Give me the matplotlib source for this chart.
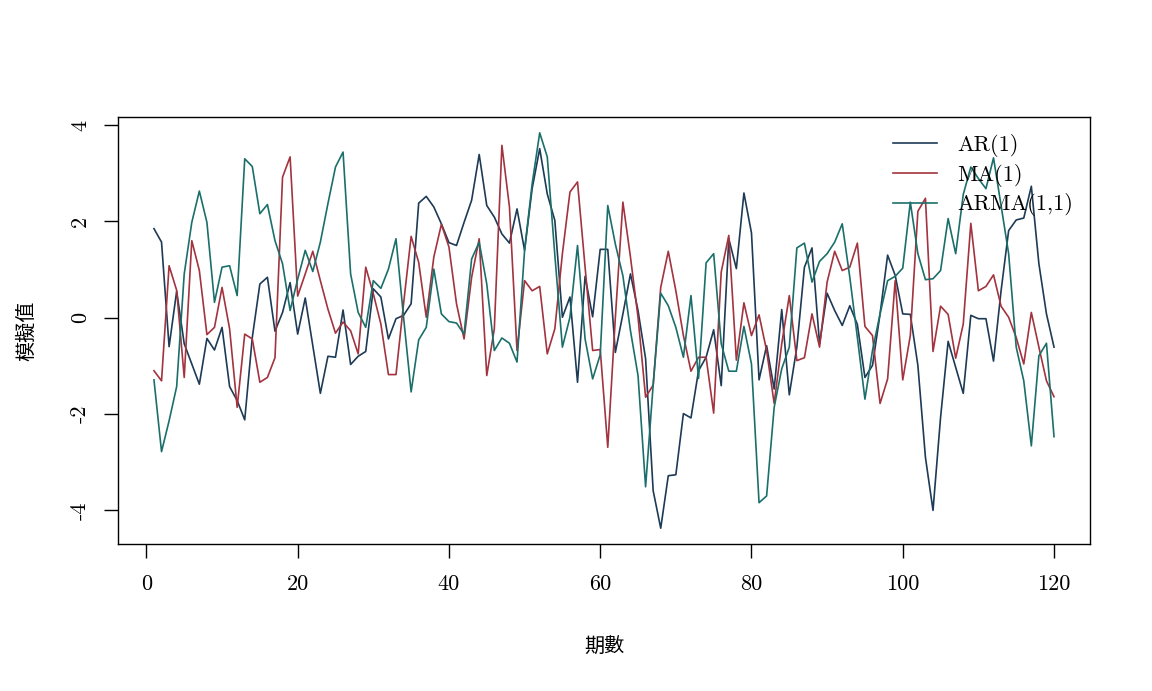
import numpy as np
import matplotlib
matplotlib.use("Agg")
import matplotlib.pyplot as plt

# simulated series, t = 1..120
periods = np.arange(1, 121)

ar1 = [1.85, 1.57, -0.60, 0.55, -0.54, -0.96, -1.38, -0.43, -0.67, -0.20,
       -1.43, -1.72, -2.12, -0.41, 0.70, 0.84, -0.28, 0.11, 0.73, -0.34,
       0.41, -0.58, -1.57, -0.80, -0.82, 0.16, -0.97, -0.80, -0.70, 0.60,
       0.43, -0.44, -0.02, 0.05, 0.29, 2.38, 2.52, 2.30, 1.95, 1.56,
       1.50, 1.98, 2.44, 3.39, 2.33, 2.09, 1.74, 1.55, 2.26, 1.40,
       2.68, 3.51, 2.57, 2.02, 0.01, 0.43, -1.34, 0.86, 0.02, 1.42,
       1.42, -0.72, 0.08, 0.91, 0.15, -0.85, -3.59, -4.37, -3.28, -3.26,
       -1.99, -2.08, -1.10, -0.82, -0.25, -1.41, 1.64, 1.02, 2.59, 1.76,
       -1.29, -0.58, -1.48, 0.17, -1.60, -0.61, 1.05, 1.45, -0.54, 0.51,
       0.15, -0.16, 0.25, -0.14, -1.24, -0.99, 0.08, 1.30, 0.88, 0.08,
       0.07, -0.99, -2.90, -4.00, -2.07, -0.49, -1.03, -1.57, 0.05, -0.02,
       -0.02, -0.90, 0.56, 1.81, 2.03, 2.07, 2.73, 1.12, 0.08, -0.61]

ma1 = [-1.10, -1.31, 1.08, 0.57, -1.24, 1.60, 0.98, -0.35, -0.20, 0.63,
       -0.23, -1.86, -0.34, -0.44, -1.34, -1.24, -0.83, 2.92, 3.34, 0.45,
       0.91, 1.38, 0.77, 0.18, -0.32, -0.09, -0.27, -0.75, 1.05, 0.50,
       -0.13, -1.18, -1.18, 0.29, 1.69, 1.15, 0.01, 1.26, 1.94, 1.47,
       0.29, -0.44, 0.84, 1.64, -1.20, -0.23, 3.58, 2.30, -0.68, 0.77,
       0.56, 0.65, -0.75, -0.23, 1.33, 2.61, 2.82, 1.05, -0.68, -0.66,
       -2.69, 0.00, 2.40, 1.26, 0.01, -1.65, -1.40, 0.63, 1.38, 0.56,
       -0.37, -1.11, -0.82, -0.82, -1.98, 0.95, 1.71, -0.88, 0.31, -0.37,
       0.06, -0.68, -1.78, -0.54, 0.46, -0.89, -0.83, 0.08, -0.61, 0.74,
       1.38, 0.98, 1.05, 1.55, -0.18, -0.37, -1.78, -1.27, 0.77, -1.29,
       -0.37, 2.21, 2.48, -0.70, 0.24, 0.07, -0.84, -0.13, 1.96, 0.56,
       0.65, 0.89, 0.24, 0.01, -0.41, -0.96, 0.11, -0.61, -1.31, -1.64]

arma11 = [-1.29, -2.78, -2.14, -1.43, 0.91, 1.98, 2.63, 1.98, 0.32, 1.05,
          1.08, 0.46, 3.30, 3.14, 2.16, 2.35, 1.60, 1.12, 0.15, 0.80,
          1.40, 0.96, 1.57, 2.37, 3.13, 3.44, 0.91, 0.11, -0.20, 0.77,
          0.61, 1.01, 1.64, 0.01, -1.54, -0.46, -0.20, 1.01, 0.08, -0.08,
          -0.11, -0.34, 1.22, 1.57, 0.70, -0.68, -0.42, -0.53, -0.92, 1.40,
          2.78, 3.84, 3.34, 1.30, -0.61, 0.01, 1.50, -0.44, -1.27, -0.77,
          2.33, 1.53, 0.87, -0.27, -1.20, -3.51, -1.40, 0.51, 0.25, -0.20,
          -0.82, 0.46, -1.26, 1.14, 1.33, -0.54, -1.11, -1.11, -0.18, -0.96,
          -3.84, -3.70, -1.86, -1.06, -0.61, 1.45, 1.55, 0.74, 1.17, 1.33,
          1.57, 1.95, 0.84, -0.41, -1.69, -0.68, 0.08, 0.77, 0.86, 1.03,
          2.40, 1.33, 0.79, 0.81, 0.98, 2.06, 1.33, 2.56, 3.13, 2.89,
          2.68, 3.32, 2.33, 1.33, -0.61, -1.31, -2.66, -0.79, -0.53, -2.47]

labels = ["AR(1)", "MA(1)", "ARMA(1,1)"]
colors = ["#1d3a56", "#a2333f", "#1b6f6b"]
xticks = [0, 20, 40, 60, 80, 100, 120]
yticks = [-4, -2, 0, 2, 4]

plt.rcParams["font.family"] = "cmr10"
plt.rcParams["axes.unicode_minus"] = False
plt.rcParams["mathtext.fontset"] = "cm"
cjk = ["Noto Sans CJK TC", "DejaVu Sans"]

fig = plt.figure(figsize=(11.52, 6.91), dpi=100)
ax = fig.add_axes([0.1024, 0.2127, 0.8438, 0.618])

for ys, lab, col in zip([ar1, ma1, arma11], labels, colors):
    ax.plot(periods, ys, color=col, lw=1.2, label=lab)

# R-style 4% padding around the data range
allv = np.concatenate([ar1, ma1, arma11])
pad_y = 0.04 * (allv.max() - allv.min())
ax.set_ylim(allv.min() - pad_y, allv.max() + pad_y)
pad_x = 0.04 * (periods.max() - periods.min())
ax.set_xlim(periods.min() - pad_x, periods.max() + pad_x)

ax.set_xticks(xticks)
ax.set_yticks(yticks)
ax.set_yticklabels([str(v) for v in yticks], rotation=90, va="center")
ax.tick_params(direction="out", length=10, width=1, labelsize=16, pad=12)
ax.tick_params(axis="y", pad=10)
for s in ax.spines.values():
    s.set_linewidth(1.0)

ax.set_xlabel("期數", family=cjk, fontsize=14.5, labelpad=31)
ax.set_ylabel("模擬值", family=cjk, fontsize=14.5, labelpad=24)

ax.legend(loc="upper left", bbox_to_anchor=(0.797, 0.96), frameon=False,
          fontsize=16, handlelength=2.0, handletextpad=0.9,
          labelspacing=0.3, borderpad=0, borderaxespad=0)

fig.savefig("out.png", dpi=100)
